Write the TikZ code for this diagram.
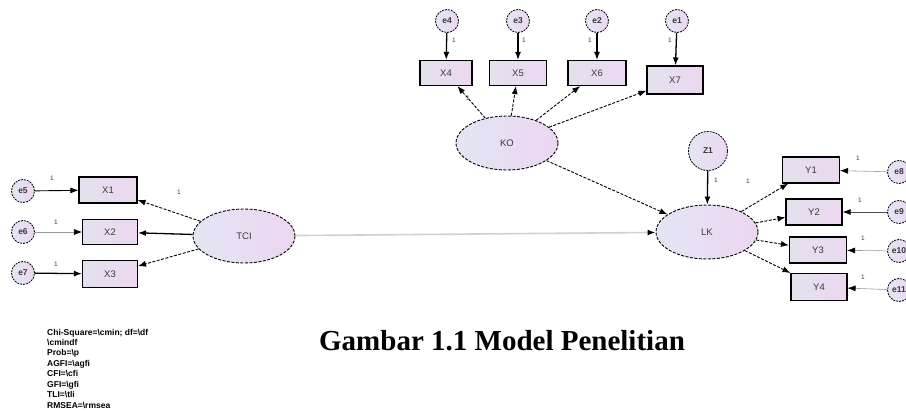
\documentclass[tikz,border=0pt]{standalone}
\usepackage{fontspec}
\setmainfont{Liberation Serif}
\setsansfont{Liberation Sans}
\usetikzlibrary{shapes.geometric,arrows.meta}
\definecolor{boxL}{HTML}{E3E1EE}
\definecolor{boxR}{HTML}{ECD8F0}
\definecolor{latL}{HTML}{E2E6F3}
\definecolor{latR}{HTML}{EDD6F2}
\definecolor{lbl}{HTML}{3A3A3A}
\definecolor{thin}{HTML}{9A9A9A}
\tikzset{
  tip/.style={-{Latex[length=8pt,width=6pt,color=black]}},
  obs/.style={rectangle, draw=black, line width=1.1pt, left color=boxL, right color=boxR,
    minimum width=#1, minimum height=25pt, inner sep=0pt,
    font=\fontsize{9.5}{9.5}\sffamily, text=lbl},
  obs/.default=56pt,
  lat/.style={ellipse, draw=black, dash pattern=on 3pt off 1.5pt, line width=0.9pt,
    left color=latL, right color=latR, minimum width=102pt, minimum height=54pt,
    inner sep=0pt, font=\fontsize{9.5}{9.5}\sffamily, text=lbl},
  err/.style={circle, draw=black, dash pattern=on 2pt off 1pt, line width=0.8pt,
    left color=latL, right color=latR, minimum size=23pt, inner sep=0pt,
    font=\fontsize{8.5}{8.5}\sffamily\bfseries, text=lbl},
  load/.style={tip, line width=0.9pt, dash pattern=on 3pt off 1.5pt},
  solidarrow/.style={tip, line width=1.3pt},
  thinarrow/.style={tip, line width=0.6pt, draw=thin},
  one/.style={font=\fontsize{6.5}{6.5}\sffamily, text=lbl, inner sep=0pt},
  stat/.style={anchor=base west, font=\fontsize{8.5}{8.5}\sffamily\bfseries, inner sep=0pt}
}
\begin{document}
\begin{tikzpicture}[x=1pt,y=-1pt]
\useasboundingbox (0,0) rectangle (906,412);

% latent variables
\node[lat] (TCI) at (244,236) {TCI};
\node[lat] (KO) at (507,143) {KO};
\node[lat] (LK) at (707,232) {LK};
\node[err, minimum size=39pt] (Z1) at (708,151) {Z1};

% indicators of KO
\node[obs=52pt] (X4) at (446,73) {X4};
\node[obs=57pt] (X5) at (518,73) {X5};
\node[obs=58pt] (X6) at (597,73) {X6};
\node[obs=56pt, minimum height=28pt] (X7) at (675,80) {X7};

% indicators of TCI
\node[obs=58pt, minimum height=26pt] (X1) at (108,190) {X1};
\node[obs=55pt] (X2) at (110,232) {X2};
\node[obs=55pt, minimum height=27pt] (X3) at (110,274) {X3};

% indicators of LK
\node[obs=57pt, minimum height=26pt] (Y1) at (811,170) {Y1};
\node[obs=56pt, minimum height=26pt] (Y2) at (814,212) {Y2};
\node[obs=57pt, minimum height=26pt] (Y3) at (818,250) {Y3};
\node[obs=56pt, minimum height=27pt] (Y4) at (819,287) {Y4};

% error terms
\node[err] (e4) at (447,21) {e4};
\node[err] (e3) at (518,21) {e3};
\node[err] (e2) at (597,21) {e2};
\node[err] (e1) at (677,21) {e1};
\node[err] (e5) at (23,191) {e5};
\node[err] (e6) at (23,232) {e6};
\node[err] (e7) at (23,273) {e7};
\node[err] (e8) at (899,172) {e8};
\node[err] (e9) at (899,212) {e9};
\node[err] (e10) at (899,251) {e10};
\node[err] (e11) at (899,290) {e11};

% structural paths
\draw[tip, line width=1.6pt, draw=black!18] (TCI) -- (LK);
\draw[load] (KO) -- (LK);
\draw[solidarrow] (Z1) -- (LK);

% loadings
\draw[load] (KO) -- (X4);
\draw[load] (KO) -- (X5);
\draw[load] (KO) -- (X6);
\draw[load] (KO) -- (X7);
\draw[load] (TCI) -- (X1);
\draw[solidarrow] (TCI) -- (X2);
\draw[load] (TCI) -- (X3);
\draw[load] (LK) -- (Y1);
\draw[load] (LK) -- (Y2);
\draw[load] (LK) -- (Y3);
\draw[load] (LK) -- (Y4);

% error paths
\draw[solidarrow] (e4) -- (X4);
\draw[solidarrow] (e3) -- (X5);
\draw[solidarrow] (e2) -- (X6);
\draw[solidarrow] (e1) -- (X7);
\draw[tip, line width=0.9pt] (e5) -- (X1);
\draw[thinarrow] (e6) -- (X2);
\draw[solidarrow] (e7) -- (X3);
\draw[thinarrow] (e8) -- (Y1);
\draw[tip, line width=0.9pt, draw=black!70] (e9) -- (Y2);
\draw[thinarrow] (e10) -- (Y3);
\draw[thinarrow] (e11) -- (Y4);

% fixed coefficients
\node[one] at (454,40) {1};
\node[one] at (524,40) {1};
\node[one] at (590,40) {1};
\node[one] at (670,40) {1};
\node[one] at (468,98) {1};
\node[one] at (179,192) {1};
\node[one] at (52,178) {1};
\node[one] at (56,222) {1};
\node[one] at (56,264) {1};
\node[one] at (716,180) {1};
\node[one] at (748,181) {1};
\node[one] at (858,158) {1};
\node[one] at (860,200) {1};
\node[one] at (863,238) {1};
\node[one] at (863,277) {1};

% caption
\node[anchor=base, font=\fontsize{29}{29}\selectfont\bfseries, inner sep=0pt] (cap) at (502,350) {Gambar 1.1 Model Penelitian};

% fit statistics
\node[stat] (s1) at (47,335) {Chi-Square=\textbackslash cmin; df=\textbackslash df};
\node[stat] (s2) at (47,345) {\textbackslash cmindf};
\node[stat] (s3) at (47,355) {Prob=\textbackslash p};
\node[stat] (s4) at (47,366) {AGFI=\textbackslash agfi};
\node[stat] (s5) at (47,376) {CFI=\textbackslash cfi};
\node[stat] (s6) at (47,387) {GFI=\textbackslash gfi};
\node[stat] (s7) at (47,397) {TLI=\textbackslash tli};
\node[stat] (s8) at (47,408) {RMSEA=\textbackslash rmsea};
\end{tikzpicture}
\end{document}
